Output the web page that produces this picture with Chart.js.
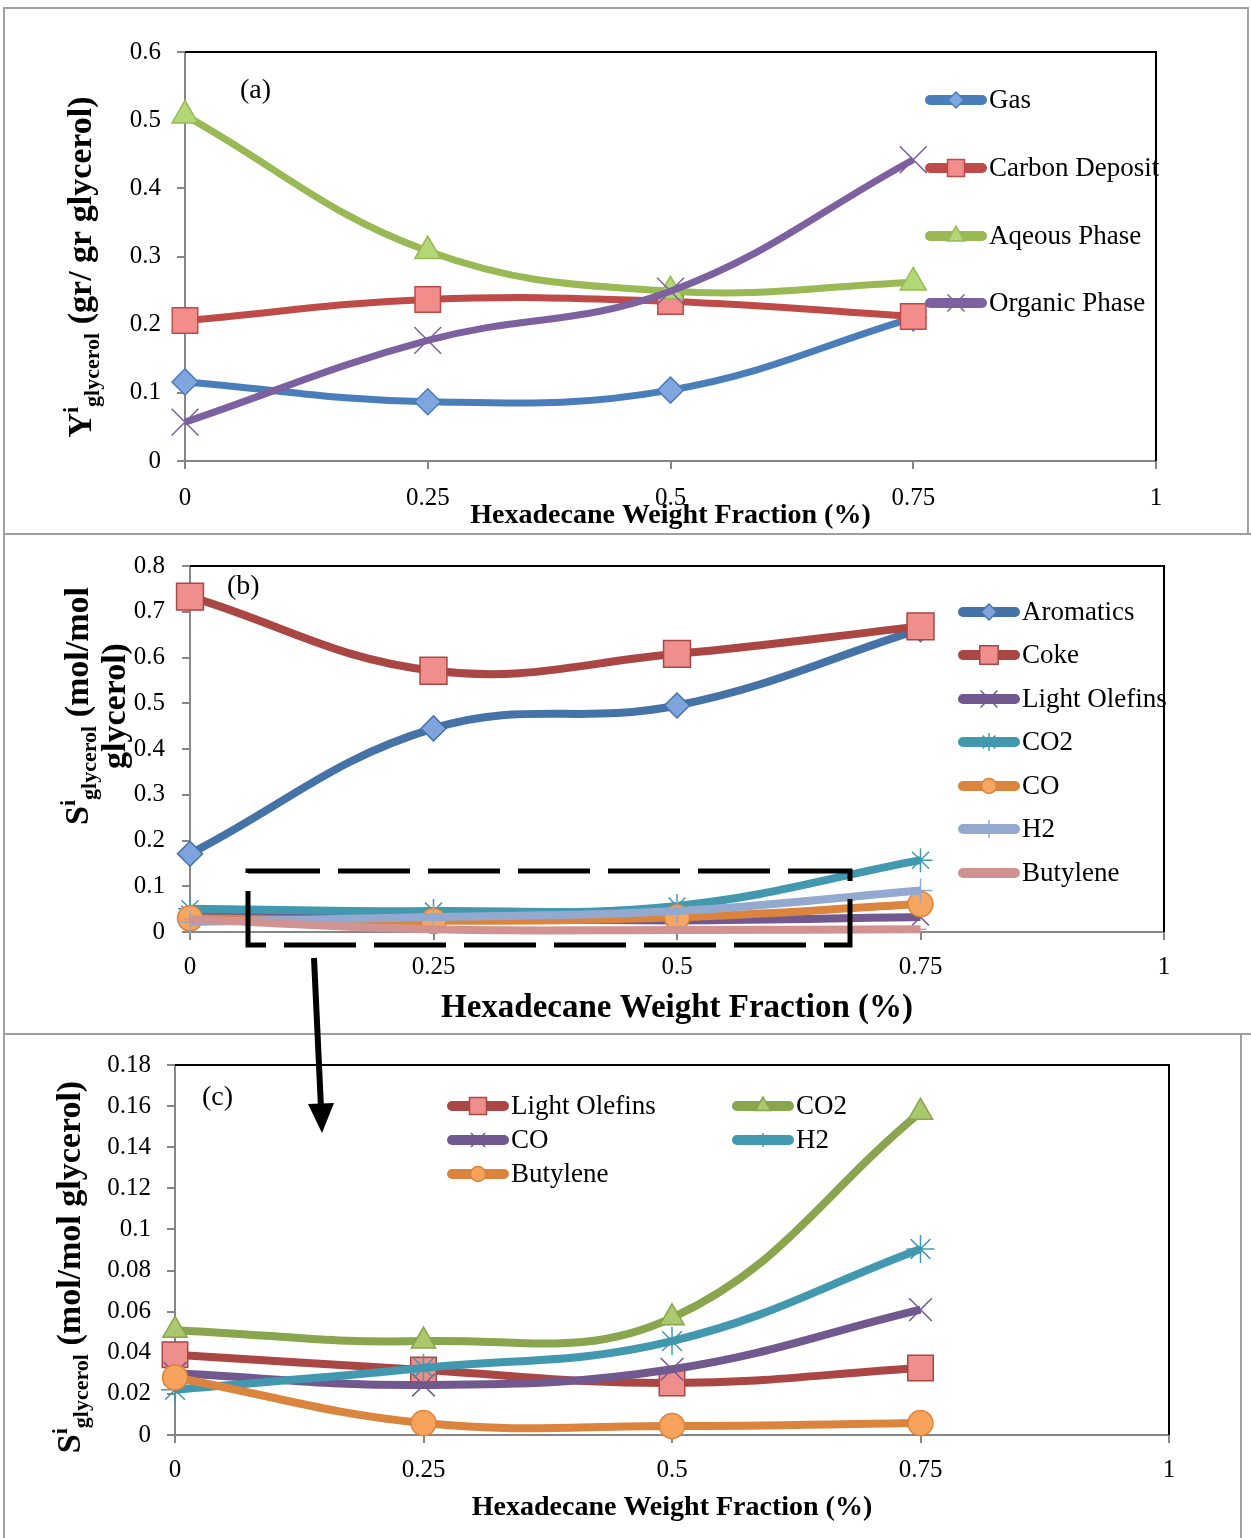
<!DOCTYPE html>
<html>
<head>
<meta charset="utf-8">
<script src="https://cdn.jsdelivr.net/npm/chart.js@4.4.1/dist/chart.umd.min.js"></script>
<style>
    body { margin: 0; background: #fff; width: 1251px; height: 1538px; position: relative; overflow: hidden; }
    .box { position: absolute; border: 2px solid #a0a0a0; box-sizing: border-box; }
    canvas { position: absolute; }
    svg { position: absolute; left: 0; top: 0; }
</style>
</head>
<body>
<div class="box" style="left:3px;top:7px;width:1246px;height:528px"></div>
<div class="box" style="left:3px;top:533px;width:1250px;height:502px"></div>
<div class="box" style="left:3px;top:1033px;width:1239px;height:515px"></div>
<canvas id="chartA" width="1244" height="525" style="left:4px;top:8px"></canvas>
<canvas id="chartB" width="1247" height="500" style="left:4px;top:534px"></canvas>
<canvas id="chartC" width="1236" height="504" style="left:4px;top:1034px"></canvas>
<svg width="1251" height="1538">
    <rect x="248" y="871" width="602" height="74" fill="none" stroke="#000" stroke-width="5" stroke-dasharray="72 18"/>
    <line x1="314" y1="958" x2="321" y2="1108" stroke="#000" stroke-width="6"/>
    <polygon points="308,1104 334,1103 322,1133" fill="#000"/>
</svg>
<script>
// x values: hexadecane weight fraction
const hexFraction = [0, 0.25, 0.5, 0.75];
const xTickLabels = ['0', '0.25', '0.5', '0.75', '1'];

// (a) yields, gr / gr glycerol
const gasYield = [0.116, 0.087, 0.104, 0.210];
const carbonDeposit = [0.206, 0.237, 0.234, 0.212];
const aqueousPhase = [0.507, 0.308, 0.249, 0.262];
const organicPhase = [0.057, 0.177, 0.249, 0.442];

// (b) selectivities, mol / mol glycerol
const aromatics = [0.171, 0.445, 0.495, 0.662];
const coke = [0.733, 0.571, 0.608, 0.668];

// (b) and (c) minor products
const lightOlefins = [0.039, 0.0316, 0.0253, 0.0326];
const co2 = [0.051, 0.0457, 0.057, 0.157];
const co = [0.030, 0.0243, 0.032, 0.061];
const h2 = [0.022, 0.0326, 0.0457, 0.0905];
const butylene = [0.028, 0.0058, 0.0044, 0.0058];

const FAM = "'Liberation Serif', 'Times New Roman', serif";
Chart.defaults.font.family = FAM;
Chart.defaults.color = '#000';
Chart.defaults.animation = false;

function series(label, values, color, fill, style, radius, legendRadius, width) {
    return {
        label: label,
        data: values.map((v, i) => ({ x: hexFraction[i], y: v })),
        borderColor: color,
        backgroundColor: fill,
        borderWidth: width,
        pointStyle: style,
        pointRadius: radius,
        pointHoverRadius: radius,
        pointBackgroundColor: fill,
        pointBorderColor: color,
        pointBorderWidth: 1.5,
        legendRadius: legendRadius,
        tension: 0.4,
        clip: false
    };
}

function xAxis(height, pad) {
    return {
        type: 'linear', min: 0, max: 1,
        ticks: { stepSize: 0.25, padding: pad, font: { size: 25 }, callback: v => xTickLabels[Math.round(v / 0.25)] },
        grid: { drawOnChartArea: false, tickLength: 8, color: '#868686', lineWidth: 2 },
        border: { color: '#868686', width: 2 },
        afterFit: s => { s.height = height; }
    };
}

function yAxis(max, step, width, pad) {
    return {
        min: 0, max: max,
        ticks: { stepSize: step, padding: pad, font: { size: 25 }, callback: v => String(+v.toFixed(2)) },
        grid: { drawOnChartArea: false, tickLength: 8, color: '#868686', lineWidth: 2 },
        border: { color: '#868686', width: 2 },
        afterFit: s => { s.width = width; }
    };
}

function drawRich(ctx, parts, x, y) {
    ctx.save();
    ctx.translate(x, y);
    ctx.rotate(-Math.PI / 2);
    ctx.textAlign = 'left';
    ctx.textBaseline = 'alphabetic';
    let total = 0;
    parts.forEach(p => { ctx.font = p[1]; p.w = ctx.measureText(p[0]).width; total += p.w; });
    let cx = -total / 2;
    parts.forEach(p => { ctx.font = p[1]; ctx.fillText(p[0], cx, p[2] || 0); cx += p.w; });
    ctx.restore();
}

const panelDeco = {
    id: 'panelDeco',
    beforeDatasetsDraw(chart) {
        const ctx = chart.ctx, a = chart.chartArea;
        ctx.save();
        ctx.strokeStyle = '#000';
        ctx.lineWidth = 2;
        ctx.beginPath();
        ctx.moveTo(a.left, a.top);
        ctx.lineTo(a.right, a.top);
        ctx.lineTo(a.right, a.bottom);
        ctx.stroke();
        ctx.restore();
    },
    afterDraw(chart, args, o) {
        const ctx = chart.ctx, a = chart.chartArea;
        ctx.save();
        ctx.fillStyle = '#000';

        // panel label
        ctx.font = '28px ' + FAM;
        ctx.textAlign = 'left';
        ctx.textBaseline = 'middle';
        ctx.fillText(o.tag[0], o.tag[1], o.tag[2]);

        // x title
        ctx.font = 'bold ' + o.xTitleSize + 'px ' + FAM;
        ctx.textAlign = 'center';
        ctx.fillText('Hexadecane Weight Fraction (%)', (a.left + a.right) / 2, o.xTitleY);

        // y title
        o.yTitle.forEach(line => drawRich(ctx, line.parts, line.x, o.yTitleY));

        // legend
        const lg = o.legend;
        chart.data.datasets.forEach((ds, i) => {
            const x0 = lg.x[i % lg.cols];
            const y = lg.y[Math.floor(i / lg.cols)];
            ctx.strokeStyle = ds.borderColor;
            ctx.lineWidth = lg.lineWidth;
            ctx.lineCap = 'round';
            ctx.beginPath();
            ctx.moveTo(x0 + 5, y);
            ctx.lineTo(x0 + lg.len - 5, y);
            ctx.stroke();
            ctx.lineCap = 'butt';
            ctx.fillStyle = ds.pointBackgroundColor;
            ctx.strokeStyle = ds.pointBorderColor;
            ctx.lineWidth = 1.5;
            Chart.helpers.drawPoint(ctx, { pointStyle: ds.pointStyle, radius: ds.legendRadius, rotation: 0, borderWidth: 1.5 }, x0 + lg.len / 2, y);
            ctx.fillStyle = '#000';
            ctx.font = lg.size + 'px ' + FAM;
            ctx.textAlign = 'left';
            ctx.textBaseline = 'middle';
            ctx.fillText(ds.label, x0 + lg.len + 2, y + 1);
        });
        ctx.restore();
    }
};

const big = 'bold 34px ' + FAM;
const small = 'bold 22px ' + FAM;

function makeChart(id, datasets, scales, padding, deco) {
    datasets.forEach((ds, i) => { ds.order = datasets.length - i; });
    return new Chart(document.getElementById(id), {
        type: 'line',
        data: { datasets: datasets },
        options: {
            responsive: false,
            devicePixelRatio: 1,
            layout: { padding: padding },
            scales: scales,
            plugins: { legend: { display: false }, tooltip: { enabled: false }, panelDeco: deco }
        },
        plugins: [panelDeco]
    });
}

// (a)
makeChart('chartA', [
    series('Gas', gasYield, '#4a7ebb', '#7fa6de', 'rectRot', 13, 8, 7),
    series('Carbon Deposit', carbonDeposit, '#be4b48', '#f28d8b', 'rect', 18, 12, 7),
    series('Aqeous Phase', aqueousPhase, '#98b954', '#b3d676', 'triangle', 15, 10, 7),
    series('Organic Phase', organicPhase, '#7d60a0', '#7d60a0', 'crossRot', 19, 12, 7)
], {
    x: xAxis(72, 14),
    y: yAxis(0.6, 0.1, 181, 16)
}, { left: 0, top: 44, right: 92, bottom: 0 }, {
    tag: ['(a)', 236, 83],
    xTitleSize: 28, xTitleY: 508,
    yTitle: [{ x: 87, parts: [['Y', big], ['i', small, -13], ['glycerol', small, 8], [' (gr/ gr glycerol)', big]] }],
    yTitleY: 259,
    legend: { cols: 1, x: [921], y: [92, 160, 228, 295], len: 62, lineWidth: 10, size: 27 }
});

// (b)
makeChart('chartB', [
    series('Aromatics', aromatics, '#4572a7', '#7fa3dc', 'rectRot', 12.5, 8, 8),
    series('Coke', coke, '#aa4643', '#ee8f8d', 'rect', 19, 13, 8),
    series('Light Olefins', lightOlefins, '#71588f', '#71588f', 'crossRot', 12, 12, 8),
    series('CO2', co2, '#4198af', '#4198af', 'star', 12, 9, 8),
    series('CO', co, '#db843d', '#f5a661', 'circle', 12.5, 7.5, 8),
    series('H2', h2, '#93a9cf', '#93a9cf', 'cross', 12, 9, 8),
    series('Butylene', butylene, '#d19392', '#f2b8b7', 'line', 6, 4, 8)
], {
    x: xAxis(102, 12),
    y: yAxis(0.8, 0.1, 186, 17)
}, { left: 0, top: 28, right: 87, bottom: 0 }, {
    tag: ['(b)', 223, 53],
    xTitleSize: 33, xTitleY: 474,
    yTitle: [
        { x: 84, parts: [['S', big], ['i', small, -13], ['glycerol', small, 8], [' (mol/mol', big]] },
        { x: 121, parts: [['glycerol)', big]] }
    ],
    yTitleY: 172,
    legend: { cols: 1, x: [954], y: [78, 121, 165, 208, 252, 295, 339], len: 62, lineWidth: 10, size: 27 }
});

// (c)
makeChart('chartC', [
    series('Light Olefins', lightOlefins, '#aa4643', '#ee8f8d', 'rect', 18, 12, 8),
    series('CO2', co2, '#89a54e', '#a9c96c', 'triangle', 14, 9, 8),
    series('CO', co, '#71588f', '#71588f', 'crossRot', 16, 10, 8),
    series('H2', h2, '#4198af', '#4198af', 'star', 14, 7, 8),
    series('Butylene', butylene, '#db843d', '#f7a35c', 'circle', 12.5, 7.5, 8)
], {
    x: xAxis(103, 12),
    y: yAxis(0.18, 0.02, 171, 16)
}, { left: 0, top: 31, right: 71, bottom: 0 }, {
    tag: ['(c)', 198, 64],
    xTitleSize: 28, xTitleY: 474,
    yTitle: [{ x: 76, parts: [['S', big], ['i', small, -13], ['glycerol', small, 8], [' (mol/mol glycerol)', big]] }],
    yTitleY: 233,
    legend: { cols: 2, x: [443, 728], y: [72, 106, 140], len: 62, lineWidth: 10, size: 27 }
});
</script>
</body>
</html>
